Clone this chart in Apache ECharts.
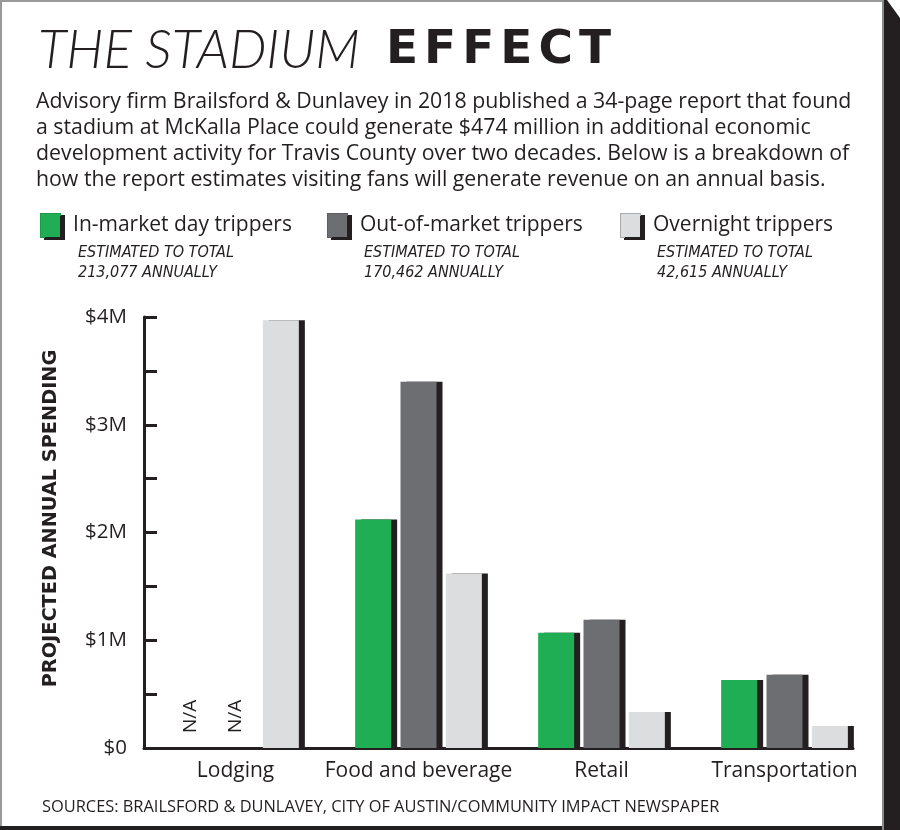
<!DOCTYPE html>
<html>
<head>
<meta charset="utf-8">
<script src="https://cdn.jsdelivr.net/npm/echarts@6/dist/echarts.min.js"></script>
<style>
  html, body { margin: 0; padding: 0; background: #fff; }
  #chart { width: 900px; height: 830px; }
</style>
</head>
<body>
<div id="chart"></div>
<script>
// data, in dollars
var categories = ['Lodging', 'Food and beverage', 'Retail', 'Transportation'];
var seriesNames = ['In-market day trippers', 'Out-of-market trippers', 'Overnight trippers'];
var inMarket = [null, 2120000, 1070000, 630000];
var outOfMarket = [null, 3400000, 1190000, 680000];
var overnight = [3970000, 1620000, 335000, 205000];
var visitorTotals = ['213,077', '170,462', '42,615'];
var yMax = 4000000;
var yStep = 500000;

var ink = '#231f20';
var font = "'Open Sans', 'Noto Sans', sans-serif";
var narrow = "'DejaVu Sans Condensed', 'Liberation Sans Narrow', 'Open Sans', sans-serif";
var fills = ['#1fae54', '#6d6e71', '#dcdddf'];
var edges = ['#1a9a49', '#5d5e61', '#a9aaac'];

var myChart = echarts.init(document.getElementById('chart'));

function toBarData(arr) {
  return arr.map(function (v) {
    if (v === null) {
      return {
        value: 0,
        label: {
          show: true, formatter: 'N/A', rotate: 90, position: 'insideBottom',
          distance: 15, align: 'left', verticalAlign: 'middle',
          fontFamily: font, fontSize: 19, color: ink
        }
      };
    }
    return v;
  });
}

var legendX = [31, 318, 611];
var subX = [73, 359, 652];

// heavy word spaced out letter by letter
var heavyWord = 'EFFECT'.split('').map(function (c) { return '{b|' + c + '}'; }).join('');

var titles = [
  {
    text: '{a|THE STADIUM}' + heavyWord,
    left: 33, top: 19,
    textStyle: {
      rich: {
        a: { fontFamily: "'Lato', sans-serif", fontWeight: 300, fontStyle: 'italic', fontSize: 53, color: ink, padding: [0, 26, 0, 0] },
        b: { fontFamily: "'DejaVu Sans', sans-serif", fontWeight: 'bold', fontSize: 47, color: ink, padding: [0, 6, 0, 0] }
      }
    }
  },
  {
    text: 'Advisory firm Brailsford & Dunlavey in 2018 published a 34-page report that found\n' +
      'a stadium at McKalla Place could generate $474 million in additional economic\n' +
      'development activity for Travis County over two decades. Below is a breakdown of\n' +
      'how the report estimates visiting fans will generate revenue on an annual basis.',
    left: 31, top: 84,
    textStyle: { fontFamily: font, fontWeight: 'normal', fontSize: 21.3, lineHeight: 26, color: ink }
  },
  {
    text: 'SOURCES: BRAILSFORD & DUNLAVEY, CITY OF AUSTIN/COMMUNITY IMPACT NEWSPAPER',
    left: 37, top: 794,
    textStyle: { fontFamily: font, fontWeight: 'normal', fontSize: 16.4, color: ink }
  }
];
visitorTotals.forEach(function (t, i) {
  titles.push({
    text: 'ESTIMATED TO TOTAL\n' + t + ' ANNUALLY',
    left: subX[i], top: 238,
    textStyle: { fontFamily: narrow, fontStyle: 'italic', fontWeight: 'normal', fontSize: 16, lineHeight: 20, color: ink }
  });
});

// legend swatch drawn as a rich-text box so it can carry the same drop shadow as the bars
var legends = seriesNames.map(function (n, i) {
  return {
    data: [n], left: legendX[i], top: 208, icon: 'rect',
    itemWidth: 0.01, itemHeight: 24, selectedMode: false,
    itemStyle: { opacity: 0 },
    formatter: function (name) { return '{box|}{t|' + name + '}'; },
    textStyle: {
      rich: {
        box: {
          width: 19, height: 23, backgroundColor: fills[i], borderColor: edges[i], borderWidth: 1,
          shadowColor: ink, shadowOffsetX: 4, shadowOffsetY: 2, shadowBlur: 0
        },
        t: { fontFamily: font, fontSize: 21, color: ink, padding: [0, 0, 0, 13] }
      }
    }
  };
});

var series = [inMarket, outOfMarket, overnight].map(function (arr, i) {
  return {
    name: seriesNames[i],
    type: 'bar',
    xAxisIndex: 0, yAxisIndex: 0,
    barWidth: 36, barGap: '26%',
    itemStyle: { color: fills[i], borderWidth: 0, shadowColor: ink, shadowOffsetX: 6, shadowOffsetY: 0, shadowBlur: 0 },
    data: toBarData(arr)
  };
});

var option = {
  animation: false,
  backgroundColor: '#fff',
  title: titles,
  legend: legends,
  grid: [
    { left: 144, right: 24, top: 317, bottom: 82 },
    { left: 144, right: 47, top: 317, bottom: 82 }
  ],
  xAxis: [
    {
      gridIndex: 0, type: 'category', data: categories,
      axisLine: { show: false }, axisTick: { show: false },
      axisLabel: { interval: 0, fontFamily: font, fontSize: 21, color: ink, margin: 13 }
    },
    {
      gridIndex: 1, type: 'value', min: 0, max: 1,
      axisLine: { show: true, lineStyle: { color: ink, width: 3 } },
      axisTick: { show: false }, axisLabel: { show: false }, splitLine: { show: false }
    }
  ],
  yAxis: [
    {
      gridIndex: 0, type: 'value', min: 0, max: yMax, interval: yStep,
      name: 'PROJECTED ANNUAL SPENDING', nameLocation: 'middle', nameGap: 84,
      nameTextStyle: { fontFamily: "'DejaVu Sans', sans-serif", fontWeight: 'bold', fontSize: 19.3, color: ink, padding: [0, 0, 0, 28] },
      axisLine: { show: true, lineStyle: { color: ink, width: 3 } },
      axisTick: { show: true, inside: true, length: 13, lineStyle: { color: ink, width: 3 } },
      splitLine: { show: false },
      axisLabel: {
        fontFamily: font, fontSize: 20.5, color: ink, margin: 17,
        formatter: function (v) {
          if (v === 0) return '$0';
          return v % 1000000 === 0 ? '$' + (v / 1000000) + 'M' : '';
        }
      }
    },
    { gridIndex: 1, type: 'value', min: 0, max: 1, show: false }
  ],
  graphic: [
    { type: 'rect', shape: { x: 0, y: 0, width: 884, height: 2 }, style: { fill: '#9a9a9a' } },
    { type: 'rect', shape: { x: 0, y: 0, width: 2, height: 830 }, style: { fill: '#9a9a9a' } },
    { type: 'rect', shape: { x: 0, y: 826, width: 900, height: 4 }, style: { fill: ink } },
    { type: 'rect', shape: { x: 882, y: 0, width: 2, height: 830 }, style: { fill: '#8a8a8a' } },
    { type: 'polygon', shape: { points: [[884, 0], [887, 0], [900, 18], [900, 830], [884, 830]] }, style: { fill: ink } }
  ],
  series: series
};

myChart.setOption(option);
</script>
</body>
</html>
